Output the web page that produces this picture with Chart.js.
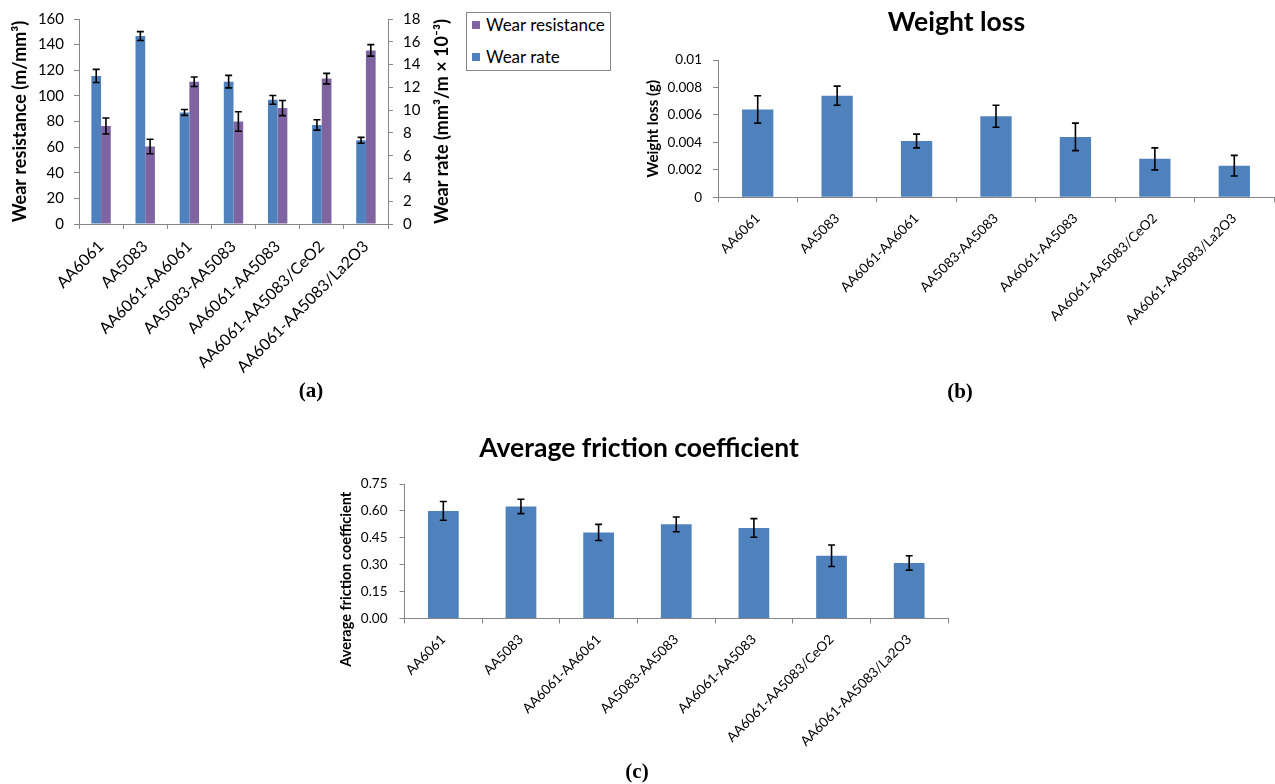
<!DOCTYPE html>
<html>
<head>
<meta charset="utf-8">
<script src="https://cdn.jsdelivr.net/npm/chart.js@4.4.1/dist/chart.umd.min.js"></script>
<style>
  html, body { margin: 0; padding: 0; background: #fff; overflow: hidden; }
  body { width: 1275px; height: 784px; position: relative; font-family: Lato, sans-serif; }
  canvas { position: absolute; }
  #wearLegend { position: absolute; left: 466px; top: 12px; width: 143px; height: 57px; border: 1px solid #868686; }
  #wearLegend .item { position: absolute; left: 5px; display: flex; align-items: center; font-size: 17px; line-height: 20px; white-space: nowrap; }
  #wearLegend .sw { width: 8px; height: 8px; margin-right: 6px; }
  .tag { position: absolute; font-family: 'Liberation Serif', serif; font-weight: bold; font-size: 21px; transform: translate(-50%, -50%); }
</style>
</head>
<body>
<canvas id="wearChart" width="460" height="380" style="left:0;top:0"></canvas>
<div id="wearLegend"></div>
<canvas id="lossChart" width="636" height="380" style="left:639px;top:0"></canvas>
<canvas id="frictionChart" width="622" height="364" style="left:330px;top:420px"></canvas>
<div class="tag" style="left:311px;top:390px">(a)</div>
<div class="tag" style="left:960px;top:391px">(b)</div>
<div class="tag" style="left:637px;top:771px">(c)</div>
<script>
// samples
const categories = ['AA6061', 'AA5083', 'AA6061-AA6061', 'AA5083-AA5083', 'AA6061-AA5083', 'AA6061-AA5083/CeO2', 'AA6061-AA5083/La2O3'];

// (a) wear rate (right axis) and wear resistance (left axis)
const wearRate = [13.0, 16.5, 9.8, 12.5, 10.9, 8.7, 7.35];
const wearRateErr = [0.58, 0.39, 0.26, 0.55, 0.38, 0.46, 0.26];
const wearResistance = [76.5, 60.5, 111, 80, 90.5, 113.5, 135.5];
const wearResistanceErr = [6.2, 5.7, 3.7, 7.6, 5.9, 4.1, 4.5];

// (b) weight loss (g)
const weightLoss = [0.0064, 0.0074, 0.0041, 0.0059, 0.0044, 0.0028, 0.0023];
const weightLossErr = [0.001, 0.0007, 0.0005, 0.0008, 0.001, 0.0008, 0.00075];

// (c) average friction coefficient
const friction = [0.60, 0.625, 0.48, 0.525, 0.505, 0.35, 0.31];
const frictionErr = [0.052, 0.04, 0.045, 0.041, 0.052, 0.06, 0.04];

const blue = '#4F81BD';
const purple = '#8064A2';
const axisGray = '#868686';

Chart.defaults.font.family = 'Lato, sans-serif';
Chart.defaults.color = '#000';
Chart.defaults.animation = false;

// draws +/- error bars from dataset.errors
const errorBars = {
  id: 'errorBars',
  afterDatasetsDraw(chart) {
    const ctx = chart.ctx;
    ctx.save();
    ctx.strokeStyle = '#000';
    ctx.lineWidth = 1.6;
    chart.data.datasets.forEach((ds, i) => {
      if (!ds.errors) return;
      const meta = chart.getDatasetMeta(i);
      const scale = chart.scales[meta.yAxisID];
      meta.data.forEach((bar, j) => {
        const v = ds.data[j], e = ds.errors[j];
        const y1 = scale.getPixelForValue(v + e);
        const y2 = scale.getPixelForValue(v - e);
        const x = bar.x, w = 3.5;
        ctx.beginPath();
        ctx.moveTo(x, y1); ctx.lineTo(x, y2);
        ctx.moveTo(x - w, y1); ctx.lineTo(x + w, y1);
        ctx.moveTo(x - w, y2); ctx.lineTo(x + w, y2);
        ctx.stroke();
      });
    });
    ctx.restore();
  }
};

// axis title read bottom-to-top, optionally shifted along the axis (Excel style)
function sideTitle(scaleId, text, size, gap, shift) {
  return {
    id: 'sideTitle_' + scaleId,
    afterDraw(chart) {
      const s = chart.scales[scaleId];
      const ctx = chart.ctx;
      const x = s.position === 'right' ? s.right - gap : s.left + gap;
      const y = (s.top + s.bottom) / 2 + shift;
      ctx.save();
      ctx.translate(x, y);
      ctx.rotate(-Math.PI / 2);
      ctx.font = 'bold ' + size + 'px Lato, sans-serif';
      ctx.fillStyle = '#000';
      ctx.textAlign = 'center';
      ctx.textBaseline = 'middle';
      ctx.fillText(text, 0, 0);
      ctx.restore();
    }
  };
}

function xAxis(fontSize, height, pad) {
  return {
    offset: true,
    grid: { offset: true, drawOnChartArea: false, drawTicks: true, tickLength: 5, color: axisGray },
    border: { color: axisGray },
    ticks: { minRotation: 45, maxRotation: 45, autoSkip: false, padding: pad, font: { size: fontSize } },
    afterFit: s => { s.height = height; }
  };
}

function yAxis(opts) {
  return {
    position: opts.position || 'left',
    min: opts.min, max: opts.max,
    grid: { drawOnChartArea: false, drawTicks: true, tickLength: 5, color: axisGray },
    border: { color: axisGray },
    ticks: { stepSize: opts.step, padding: opts.pad, font: { size: opts.size }, callback: opts.fmt },
    title: { display: !!opts.title, text: opts.title, font: { size: opts.titleSize, weight: 'bold' }, padding: { top: opts.titlePad, bottom: 0 } },
    afterFit: s => { s.width = opts.width; }
  };
}

// (a)
const wearChart = new Chart(document.getElementById('wearChart'), {
  type: 'bar',
  data: {
    labels: categories,
    datasets: [
      { label: 'Wear rate', data: wearRate, errors: wearRateErr, backgroundColor: blue, yAxisID: 'y1',
        categoryPercentage: 0.44, barPercentage: 1.0 },
      { label: 'Wear resistance', data: wearResistance, errors: wearResistanceErr, backgroundColor: purple, yAxisID: 'y',
        categoryPercentage: 0.44, barPercentage: 1.0 }
    ]
  },
  options: {
    responsive: false,
    layout: { padding: { top: 17, left: 0, right: 0, bottom: 0 } },
    plugins: { legend: { display: false }, tooltip: { enabled: false } },
    scales: {
      x: xAxis(16, 156, 8),
      y: yAxis({ min: 0, max: 160, step: 20, pad: 10, size: 15, width: 79,
                 title: 'Wear resistance (m/mm³)', titleSize: 18, titlePad: 9 }),
      y1: yAxis({ position: 'right', min: 0, max: 18, step: 2, pad: 10, size: 15, width: 72 })
    }
  },
  plugins: [errorBars, sideTitle('y1', 'Wear rate (mm³/m × 10⁻³)', 18, 18, 0)]
});

// legend for (a), Wear resistance listed first
const legendBox = document.getElementById('wearLegend');
wearChart.data.datasets.slice().reverse().forEach((ds, i) => {
  const item = document.createElement('div');
  item.className = 'item';
  item.style.top = (2 + i * 32) + 'px';
  const sw = document.createElement('span');
  sw.className = 'sw';
  sw.style.background = ds.backgroundColor;
  item.appendChild(sw);
  item.appendChild(document.createTextNode(ds.label));
  legendBox.appendChild(item);
});

// (b)
new Chart(document.getElementById('lossChart'), {
  type: 'bar',
  data: {
    labels: categories,
    datasets: [{ label: 'Weight loss', data: weightLoss, errors: weightLossErr, backgroundColor: blue,
                 categoryPercentage: 0.394, barPercentage: 1.0 }]
  },
  options: {
    responsive: false,
    layout: { padding: { top: 0, left: 0, right: 1, bottom: 0 } },
    plugins: {
      legend: { display: false }, tooltip: { enabled: false },
      title: { display: true, text: 'Weight loss', font: { size: 26.5, weight: 'bold' }, padding: { top: 6.6, bottom: 21.6 } }
    },
    scales: {
      x: xAxis(13.5, 182.7, 8),
      y: yAxis({ min: 0, max: 0.01, step: 0.002, pad: 11, size: 13.5, width: 79,
                 fmt: v => v === 0 ? '0' : String(parseFloat(v.toFixed(3))),
                 title: 'Weight loss (g)', titleSize: 15, titlePad: 5 })
    }
  },
  plugins: [errorBars]
});

// (c)
new Chart(document.getElementById('frictionChart'), {
  type: 'bar',
  data: {
    labels: categories,
    datasets: [{ label: 'Average friction coefficient', data: friction, errors: frictionErr, backgroundColor: blue,
                 categoryPercentage: 0.396, barPercentage: 1.0 }]
  },
  options: {
    responsive: false,
    layout: { padding: { top: 0, left: 0, right: 4, bottom: 0 } },
    plugins: {
      legend: { display: false }, tooltip: { enabled: false },
      title: { display: true, text: 'Average friction coefficient', font: { size: 26.5, weight: 'bold' }, padding: { top: 12.1, bottom: 20.1 } }
    },
    scales: {
      x: xAxis(13.5, 165.5, 8),
      y: yAxis({ min: 0, max: 0.75, step: 0.15, pad: 12, size: 13.5, width: 74.5,
                 fmt: v => v.toFixed(2) })
    }
  },
  plugins: [errorBars, sideTitle('y', 'Average friction coefficient', 14.5, 16, 28)]
});
</script>
</body>
</html>
